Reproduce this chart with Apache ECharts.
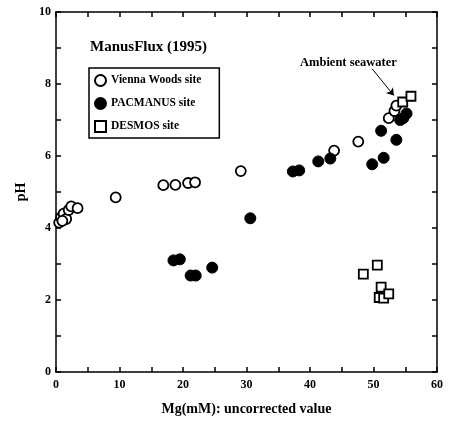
<!DOCTYPE html>
<html><head><meta charset="utf-8">
<script src="https://cdn.jsdelivr.net/npm/echarts@6/dist/echarts.min.js"></script>
<style>html,body{margin:0;padding:0;background:#fff}#c{width:458px;height:421px}</style>
</head><body><div id="c"></div>
<script>
const viennaWoods = [[0.5,4.15],[0.8,4.3],[1.2,4.4],[1.6,4.25],[2.0,4.5],[2.4,4.6],[3.4,4.55],[1.0,4.2],
  [9.4,4.85],[16.9,5.19],[18.8,5.2],[20.8,5.25],[21.9,5.27],[29.1,5.58],[43.8,6.15],[47.6,6.4],
  [52.4,7.05],[53.3,7.25],[53.6,7.4]];
const pacmanus = [[18.5,3.1],[19.5,3.13],[21.2,2.68],[22.0,2.68],[24.6,2.9],[30.6,4.27],[37.3,5.57],[38.3,5.6],
  [41.3,5.85],[43.2,5.93],[49.8,5.77],[51.2,6.7],[51.6,5.95],[53.6,6.45],[54.2,7.0],[54.7,7.05],[55.2,7.18]];
const desmos = [[48.4,2.72],[50.6,2.97],[51.2,2.36],[50.9,2.07],[51.6,2.05],[52.4,2.17],[54.6,7.5],[55.9,7.66]];
const seriesNames = ['Vienna Woods site','PACMANUS site','DESMOS site'];
const xTicks = [0,10,20,30,40,50,60];
const yTicks = [0,2,4,6,8,10];
const arrowLine = [[49.8,8.42],[53.2,7.68]];

const F = 'Liberation Serif';
const chart = echarts.init(document.getElementById('c'));
const axisCommon = {
  axisLine:{show:true,onZero:false,lineStyle:{color:'#000',width:1.5}},
  axisTick:{show:true,inside:true,length:5,lineStyle:{color:'#000',width:1.5}},
  splitLine:{show:false}
};
chart.setOption({
  animation:false,
  backgroundColor:'#fff',
  title:{text:'ManusFlux (1995)',left:85,top:35,textStyle:{fontFamily:F,fontWeight:'bold',fontSize:15,color:'#000'}},
  legend:{
    orient:'vertical',left:89,top:68,
    data:seriesNames,
    borderColor:'#000',borderWidth:1.5,padding:[6,18,5,5],itemGap:10,
    itemWidth:11,itemHeight:11,
    textStyle:{fontFamily:F,fontWeight:'bold',fontSize:11.5,color:'#000'}
  },
  graphic:[{type:'text',left:300,top:56,style:{text:'Ambient seawater',font:'bold 12.5px "Liberation Serif"',fill:'#000'}}],
  grid:{left:56,right:21,top:12,bottom:45},
  xAxis:[Object.assign({},axisCommon,{
    type:'value',min:0,max:60,interval:5,position:'bottom',
    name:'Mg(mM): uncorrected value',nameLocation:'middle',nameGap:30,
    nameTextStyle:{fontFamily:F,fontWeight:'bold',fontSize:14,color:'#000'},
    axisLabel:{fontFamily:F,fontWeight:'bold',fontSize:12,color:'#000',margin:7,
      formatter:v=>xTicks.includes(v)?String(v):''}
  }),Object.assign({},axisCommon,{
    type:'value',min:0,max:60,interval:5,position:'top',axisLabel:{show:false}
  })],
  yAxis:[Object.assign({},axisCommon,{
    type:'value',min:0,max:10,interval:1,position:'left',
    name:'pH',nameLocation:'middle',nameGap:19,
    nameTextStyle:{fontFamily:F,fontWeight:'bold',fontSize:14,color:'#000'},
    axisLabel:{fontFamily:F,fontWeight:'bold',fontSize:12,color:'#000',margin:5,
      formatter:v=>yTicks.includes(v)?String(v):''}
  }),Object.assign({},axisCommon,{
    type:'value',min:0,max:10,interval:1,position:'right',axisLabel:{show:false}
  })],
  series:[
    {name:seriesNames[0],type:'scatter',data:viennaWoods,symbol:'circle',symbolSize:10,
     itemStyle:{color:'#fff',borderColor:'#000',borderWidth:1.8,opacity:1}},
    {name:seriesNames[1],type:'scatter',data:pacmanus,symbol:'circle',symbolSize:11,
     itemStyle:{color:'#000',borderColor:'#000',borderWidth:1,opacity:1}},
    {name:seriesNames[2],type:'scatter',data:desmos,symbol:'rect',symbolSize:9,
     itemStyle:{color:'#fff',borderColor:'#000',borderWidth:1.8,opacity:1},
     markLine:{silent:true,symbol:['none','arrow'],symbolSize:7,label:{show:false},
       lineStyle:{color:'#000',width:1,type:'solid'},
       data:[[{coord:arrowLine[0]},{coord:arrowLine[1]}]]}}
  ]
});
</script></body></html>
